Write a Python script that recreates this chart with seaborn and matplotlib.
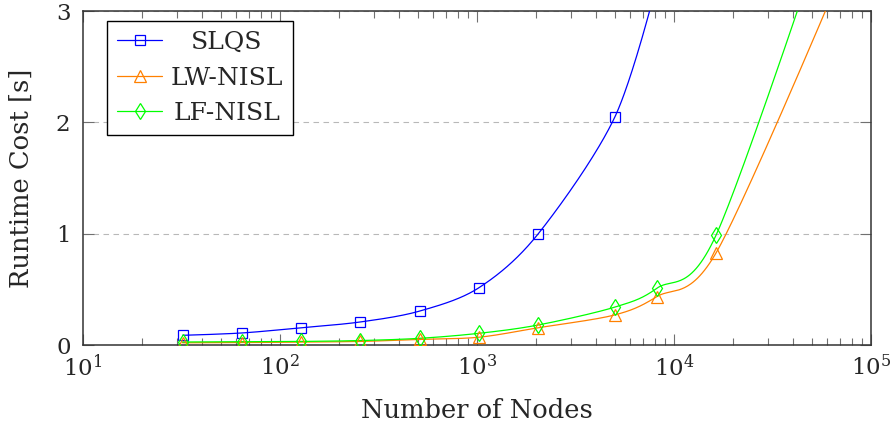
import numpy as np
import pandas as pd
import matplotlib
matplotlib.use("Agg")
import matplotlib.pyplot as plt
from matplotlib.lines import Line2D
import seaborn as sns

# Problem sizes (number of nodes) and measured runtimes in seconds
slqs_nodes = [32, 64, 128, 256, 512, 1024, 2048, 5000, 8192]
slqs_time = [0.087, 0.108, 0.155, 0.207, 0.305, 0.515, 1.0, 2.045, 3.25]

lw_nodes = [32, 64, 128, 256, 512, 1024, 2048, 5000, 8192, 16384, 65536]
lw_time = [0.02, 0.022, 0.026, 0.032, 0.05, 0.07, 0.155, 0.27, 0.435, 0.83, 3.2]

lf_nodes = [32, 64, 128, 256, 512, 1024, 2048, 5000, 8192, 16384, 65536]
lf_time = [0.027, 0.03, 0.032, 0.04, 0.06, 0.105, 0.18, 0.34, 0.51, 0.99, 4.0]

labels = ["SLQS", "LW-NISL", "LF-NISL"]
colors = ["#0000ff", "#ff8000", "#00ff00"]
markers = ["s", "^", "d"]

x_ticks = [10, 100, 1000, 10000, 100000]
y_ticks = [0, 1, 2, 3]
x_lim = (10, 1e5)
y_lim = (0, 3)

FS = 18.5       # axis titles
TICK_FS = 16.5  # tick labels
LEG_FS = 18

sns.set_style("ticks")
plt.rcParams["font.family"] = ["DejaVu Serif"]
plt.rcParams["mathtext.fontset"] = "dejavuserif"

fig = plt.figure(figsize=(8.91, 4.32), dpi=100)
ax = fig.add_axes([83 / 891, 1 - 345 / 432, 788 / 891, 334 / 432])

W, H = 788.0, 334.0  # axes size in pixels, used for a smooth curve in screen space


def smooth_curve(xs, ys, tension=0.153, n=60):
    """Bezier curve through the points, built in log-x / linear-y screen space."""
    u = (np.log10(np.asarray(xs, float)) - 1) / 4 * W
    v = np.asarray(ys, float) / 3 * H
    P = np.column_stack([u, v])
    t = np.linspace(0, 1, n)[:, None]
    out = []
    for i in range(len(P) - 1):
        p0, p3 = P[i], P[i + 1]
        c1 = p0 if i == 0 else p0 + tension * (P[i + 1] - P[i - 1])
        c2 = p3 if i == len(P) - 2 else p3 - tension * (P[i + 2] - P[i])
        seg = ((1 - t) ** 3) * p0 + 3 * ((1 - t) ** 2) * t * c1 \
            + 3 * (1 - t) * t ** 2 * c2 + t ** 3 * p3
        out.append(seg if i == 0 else seg[1:])
    seg = np.vstack(out)
    return 10 ** (seg[:, 0] / W * 4 + 1), seg[:, 1] / H * 3


series = [(slqs_nodes, slqs_time), (lw_nodes, lw_time), (lf_nodes, lf_time)]

for (xs, ys), lab, col, mk in zip(series, labels, colors, markers):
    cx, cy = smooth_curve(xs, ys)
    curve = pd.DataFrame({"nodes": cx, "runtime": cy})
    sns.lineplot(data=curve, x="nodes", y="runtime", sort=False, estimator=None,
                 color=col, linewidth=0.9, ax=ax, zorder=3)
    pts = pd.DataFrame({"nodes": xs, "runtime": ys})
    msize = 7.2 if mk == "s" else 8.0
    sns.lineplot(data=pts, x="nodes", y="runtime", sort=False, estimator=None,
                 color=col, linestyle="", marker=mk, markersize=msize,
                 markerfacecolor="none", markeredgecolor=col, markeredgewidth=0.9,
                 ax=ax, zorder=4)

ax.set_xscale("log")
ax.set_xlim(*x_lim)
ax.set_ylim(*y_lim)
ax.set_xticks(x_ticks)
ax.set_yticks(y_ticks)
ax.xaxis.set_minor_locator(matplotlib.ticker.LogLocator(base=10, subs=np.arange(2, 10)))
ax.xaxis.set_minor_formatter(matplotlib.ticker.NullFormatter())
ax.yaxis.set_major_formatter(matplotlib.ticker.FormatStrFormatter("%d"))

ax.grid(axis="y", which="major", color="#b8b8b8", linestyle=(0, (5, 4)), linewidth=0.8)
ax.set_axisbelow(True)

for sp in ax.spines.values():
    sp.set_color("#333333")
    sp.set_linewidth(1.1)
    sp.set_visible(True)

ax.tick_params(which="both", direction="in", top=True, right=True,
               color="#707070", width=0.8, labelsize=TICK_FS)
ax.tick_params(which="major", length=8)
ax.tick_params(axis="x", which="major", pad=7)
ax.tick_params(axis="y", which="major", pad=9)
ax.tick_params(which="minor", length=5)

ax.set_xlabel("Number of Nodes", fontsize=FS)
ax.set_ylabel("Runtime Cost [s]", fontsize=FS)
ax.xaxis.set_label_coords(0.5, -0.16)
ax.yaxis.set_label_coords(-0.062, 0.5)

handles = [Line2D([], [], color=c, marker=m, markersize=(7.2 if m == "s" else 8.0),
                  markerfacecolor="none", markeredgecolor=c, markeredgewidth=0.9,
                  linewidth=0.9) for c, m in zip(colors, markers)]
leg = ax.legend(handles, labels, loc="upper left", bbox_to_anchor=(0.0305, 0.970),
                borderaxespad=0, fancybox=False, framealpha=1, edgecolor="black",
                fontsize=LEG_FS, handlelength=1.8, borderpad=0.4, labelspacing=0.5,
                handletextpad=0.35)
leg.get_frame().set_linewidth(1.0)

# center the legend entries within their column
fig.canvas.draw()
widths = [t.get_window_extent().width for t in leg.get_texts()]
wmax = max(widths)
for t, w in zip(leg.get_texts(), widths):
    t.set_x((wmax - w) / 2)

fig.savefig("out.png", dpi=100)
